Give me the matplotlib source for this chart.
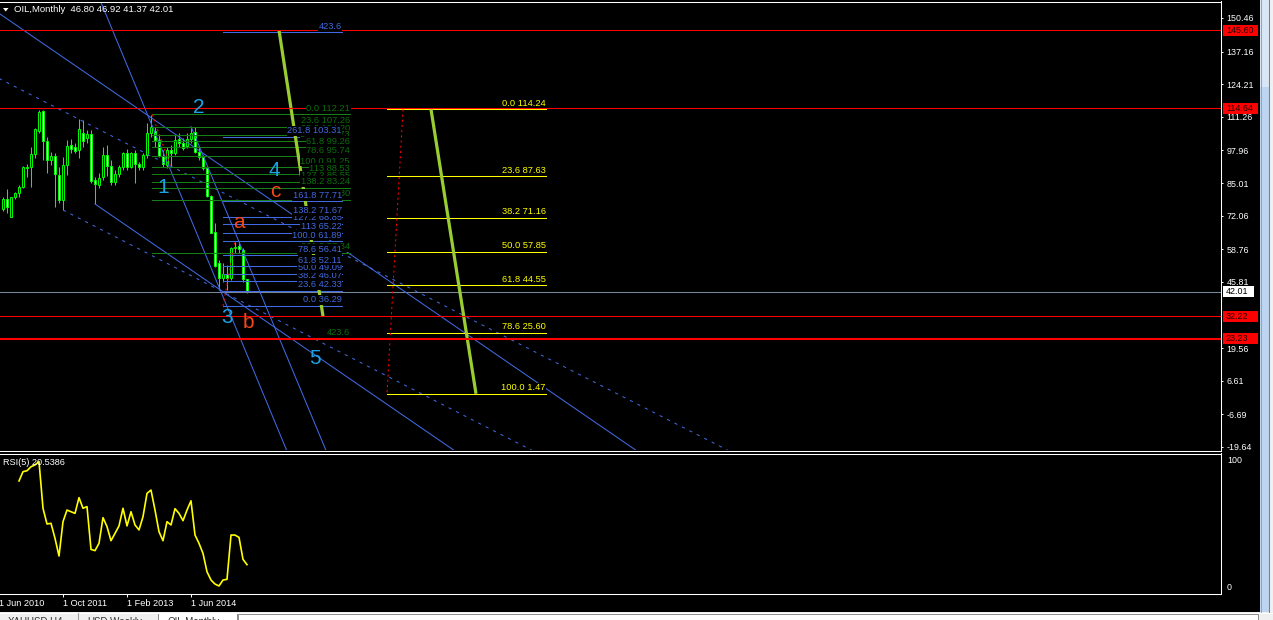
import numpy as np
import matplotlib
matplotlib.use('Agg')
import matplotlib.pyplot as plt
from matplotlib.patches import Rectangle, Polygon
from matplotlib.transforms import IdentityTransform

plt.rcParams['font.family'] = ['Liberation Sans', 'DejaVu Sans']

# ---------------- data (monthly bars, Jul 2010 .. Aug 2015) ----------------
opens = [74.6, 78.6, 71.4, 79.4, 80.9, 83.3, 91.0, 91.5, 96.4, 105.8,
         113.6, 101.8, 94.2, 95.8, 88.2, 78.3, 92.0, 100.0, 99.2, 98.1,
         104.7, 102.8, 104.3, 86.2, 84.1, 87.6, 96.1, 91.8, 85.6, 88.6,
         91.3, 97.1, 91.3, 96.8, 92.6, 91.3, 96.1, 104.7, 105.8, 102.1,
         95.8, 92.2, 98.1, 96.8, 102.4, 101.0, 99.7, 102.4, 105.4, 97.5,
         95.2, 90.9, 80.0, 65.5, 53.2, 47.2, 49.0, 47.2, 59.1, 60.1,
         58.5, 46.80]
highs = [79.6, 82.5, 79.6, 81.6, 84.3, 91.8, 92.6, 99.5, 106.7, 114.0,
         114.0, 103.4, 97.5, 96.8, 91.5, 95.5, 102.1, 102.4, 101.0, 110.3,
         110.0, 106.0, 106.0, 87.3, 88.9, 99.5, 100.1, 94.2, 90.2, 92.2,
         97.5, 98.4, 97.5, 98.1, 93.5, 96.8, 108.7, 112.0, 107.4, 104.1,
         98.1, 99.5, 100.1, 104.1, 104.7, 102.8, 104.7, 107.4, 107.4, 99.5,
         96.1, 91.5, 80.3, 69.0, 54.5, 53.2, 52.5, 59.8, 61.8, 61.8,
         59.1, 46.92]
lows = [74.1, 73.0, 71.4, 78.6, 79.6, 82.9, 87.6, 83.3, 95.0, 104.7,
        94.2, 88.9, 92.2, 75.4, 77.0, 74.3, 88.2, 96.8, 96.8, 94.8,
        99.5, 100.8, 84.9, 76.7, 82.9, 86.2, 87.8, 84.3, 84.3, 87.3,
        90.2, 90.2, 90.9, 85.2, 90.2, 90.2, 94.8, 103.4, 99.5, 95.5,
        91.5, 90.9, 91.5, 96.1, 99.5, 98.1, 98.8, 100.8, 97.1, 94.2,
        90.2, 79.6, 65.1, 51.9, 43.3, 45.9, 42.6, 46.6, 57.2, 57.2,
        45.9, 41.37]
closes = [78.6, 75.4, 79.4, 80.9, 83.3, 91.3, 91.5, 96.4, 106.3, 113.1,
          101.8, 94.2, 95.8, 88.6, 78.3, 92.0, 99.7, 98.4, 97.9, 106.3,
          101.8, 104.5, 86.0, 84.5, 86.9, 96.1, 91.8, 85.6, 88.6, 91.3,
          96.8, 91.3, 96.8, 92.6, 91.3, 96.1, 104.7, 107.1, 102.1, 95.8,
          92.6, 98.1, 96.8, 102.1, 101.0, 98.8, 102.4, 104.7, 97.5, 95.2,
          90.9, 80.0, 65.4, 52.3, 47.5, 49.0, 47.2, 59.1, 59.8, 58.7,
          46.8, 42.01]
nan = float('nan')
rsi5 = [nan, nan, nan, nan, 81.2, 87.9, 88.6, 91.5, 92.8, 95.2,
        61.4, 50.0, 50.5, 39.6, 26.8, 51.7, 60.1, 58.9, 57.7, 69.1,
        61.4, 62.6, 31.6, 30.7, 36.0, 54.6, 48.1, 37.9, 43.2, 48.6,
        61.4, 48.6, 58.9, 49.3, 45.7, 55.3, 72.2, 74.6, 60.1, 44.4,
        37.9, 51.7, 49.3, 61.1, 57.7, 52.4, 60.1, 66.8, 42.0, 36.0,
        28.7, 15.4, 9.4, 6.5, 5.1, 9.4, 9.9, 42.0, 42.0, 40.3,
        24.4, 20.54]

date_tick_idx = [15, 31, 47]
date_tick_labels = ['1 Oct 2011', '1 Feb 2013', '1 Jun 2014']
edge_date_idx = -1
edge_date_label = '1 Jun 2010'

price_ticks = [150.46, 137.16, 124.21, 111.26, 97.96, 85.01, 72.06, 58.76,
               45.81, 19.56, 6.61, -6.69, -19.64]
red_levels = [145.60, 114.64, 32.22, 23.23]
red_widths = [0.75, 0.75, 0.75, 1.5]
last_price = 42.01

# trend lines: (bar a, price a, bar b, price b, extend left)
solid_lines = [(37, 110.97, 100, 42.43, True),
               (37, 108.8, 60, 20.8, True),
               (47, 107.4, 80.8, -21.2, False),
               (23, 76.71, 100, -7.07, False)]
dashed_lines = [(0, 125.67, 100, 44.77, True),
                (15, 74.33, 100, 5.23, False)]
thick_lines = [(69, 145.60, 80, 32.22), (107, 114.24, 118.25, 1.47)]

fib_std_levels = [0, 23.6, 38.2, 50, 61.8, 78.6, 100, 113, 127.2, 138.2, 161.8, 261.8, 423.6]
fib_yel_levels = [0, 23.6, 38.2, 50, 61.8, 78.6, 100]
# (price 0, price 100, bar of 0, bar of 100, right end bar)
fib_green = (112.21, 91.25, 37.25, 42.0, 86.75)
fib_blue = (36.29, 61.89, 55.0, 58.0, 84.7)
fib_yellow = (114.24, 1.47, 100.0, 96.0, 135.7)

wave_labels = [('2', 49.0, 112.79, '#1CA3E6'), ('1', 40.0, 81.07, '#1CA3E6'),
               ('4', 67.75, 87.81, '#1CA3E6'), ('3', 56.0, 29.52, '#1CA3E6'),
               ('5', 78.0, 13.27, '#1CA3E6'), ('a', 59.0, 67.19, '#F5461A'),
               ('c', 68.0, 79.48, '#F5461A'), ('b', 61.25, 27.54, '#F5461A')]

# ---------------- figure ----------------
W, H = 1273, 620
fig = plt.figure(figsize=(W / 100, H / 100), dpi=100, facecolor='black')


def box(x0, y0, x1, y1):
    return [x0 / W, 1 - y1 / H, (x1 - x0) / W, (y1 - y0) / H]


ax = fig.add_axes(box(0, 2, 1221, 450))
ax2 = fig.add_axes(box(0, 454, 1221, 594))
for a in (ax, ax2):
    a.set_facecolor('black')
    for s in a.spines.values():
        s.set_visible(False)
    a.set_xlim(-0.75, 304.5)
ax.set_ylim(-20.83, 156.80)
ax2.set_ylim(-0.72, 100.72)

LIME = '#00FF00'
BLUE = '#4169E1'
idx = np.arange(len(closes))
o = np.array(opens); h = np.array(highs); l = np.array(lows); c = np.array(closes)
bull = c >= o
ax.vlines(idx, l, h, color=LIME, lw=0.75, zorder=2)
ax.bar(idx, np.maximum(np.abs(c - o), 0.05), bottom=np.minimum(o, c), width=0.55,
       color=['black' if b else 'white' for b in bull], edgecolor=LIME,
       linewidth=0.7, zorder=2.1)

# horizontal lines
ax.axhline(last_price, color='#778899', lw=0.75, zorder=3)
for p, w in zip(red_levels, red_widths):
    ax.axhline(p, color='#FF0000', lw=w, zorder=4.5)


def ray(ia, pa, ib, pb, ext):
    s = (pb - pa) / (ib - ia)
    x0 = -60 if ext else ia
    x1 = 420
    return [x0, x1], [pa + s * (x0 - ia), pa + s * (x1 - ia)]


for t in solid_lines:
    xs, ys = ray(*t)
    ax.plot(xs, ys, color=BLUE, lw=0.75, zorder=3)
for t in dashed_lines:
    xs, ys = ray(*t)
    ax.plot(xs, ys, color=BLUE, lw=0.75, ls=(0, (3, 5)), zorder=3)


def fib_text(lv, pr):
    if lv == 423.6:
        return '423.6'
    if lv == 113:
        return f'113 {pr:.2f}'
    return f'{lv:.1f} {pr:.2f}'


def draw_fib(fib, levels, lcol, tcol, z):
    p0, p100, i0, i1, xe = fib
    xs = min(i0, i1)
    for lv in levels:
        pr = p0 + (p100 - p0) * lv / 100.0
        ax.plot([xs, xe], [pr, pr], color=lcol, lw=0.75, zorder=3)
        ax.annotate(fib_text(lv, pr), xy=(xe, pr), xytext=(0, 1.5),
                    textcoords='offset pixels', ha='right', va='bottom',
                    color=tcol, fontsize=6.7, zorder=z,
                    bbox=dict(boxstyle='square,pad=0.06', fc='black', ec='none'))
    ax.plot([i0, i1], [p0, p100], color='#FF0000', lw=0.75, ls=(0, (2, 3)), zorder=3.2)


draw_fib(fib_green, fib_std_levels, '#157F15', '#0C6E0C', 5.0)
draw_fib(fib_blue, fib_std_levels, BLUE, BLUE, 5.1)
draw_fib(fib_yellow, fib_yel_levels, '#FFFF00', '#FFFF00', 5.2)

for (ia, pa, ib, pb) in thick_lines:
    ax.plot([ia, ib], [pa, pb], color='#9ACD32', lw=2.3, zorder=4, solid_capstyle='butt')

for t, i, p, col in wave_labels:
    ax.text(i, p, t, color=col, fontsize=15, ha='center', va='baseline', zorder=6)

# price axis
ax.yaxis.tick_right()
ax.set_yticks(price_ticks)
ax.set_yticklabels([f'{v:.2f}' for v in price_ticks])
ax.tick_params(axis='y', colors='white', labelsize=6.4, length=1.6, width=0.7, pad=2.4)
ax.tick_params(axis='x', bottom=False, labelbottom=False)

# RSI
ax2.plot(idx, rsi5, color='#FFFF00', lw=1.2, zorder=3)
ax2.tick_params(axis='y', left=False, labelleft=False)
ax2.set_xticks(date_tick_idx)
ax2.set_xticklabels(date_tick_labels)
ax2.tick_params(axis='x', colors='white', labelsize=6.6, length=2.4, width=0.7, pad=1.0)
for lab in ax2.get_xticklabels():
    lab.set_ha('left')
ax2.annotate(edge_date_label, xy=(edge_date_idx, 0), xycoords=('data', 'axes fraction'),
             xytext=(0, -3.4), textcoords='offset points', ha='left', va='top',
             color='white', fontsize=6.6, annotation_clip=False)
ax2.annotate('100', xy=(1, 100), xycoords=ax2.get_yaxis_transform(), xytext=(6, -1.5),
             textcoords='offset pixels', ha='left', va='top', color='white',
             fontsize=6.4, annotation_clip=False)
ax2.annotate('0', xy=(1, 0), xycoords=ax2.get_yaxis_transform(), xytext=(6, 1.5),
             textcoords='offset pixels', ha='left', va='bottom', color='white',
             fontsize=6.4, annotation_clip=False)

# price boxes on the axis
for p in red_levels:
    yd = ax.transData.transform((0, p))[1]
    fig.add_artist(Rectangle((1223, yd - 5.5), 35, 11, transform=IdentityTransform(),
                             facecolor='#FF0000', edgecolor='none', zorder=2))
    fig.text(1226 / W, yd / H, f'{p:.2f}', color='#200000', fontsize=6.4,
             ha='left', va='center', zorder=3)
yd = ax.transData.transform((0, last_price))[1]
fig.add_artist(Rectangle((1223, yd - 5.5), 31, 11, transform=IdentityTransform(),
                         facecolor='white', edgecolor='none', zorder=2))
fig.text(1226 / W, yd / H, f'{last_price:.2f}', color='black', fontsize=6.4,
         ha='left', va='center', zorder=3)

# ---------------- overlay (frames, window chrome, captions) ----------------
ov = fig.add_axes([0, 0, 1, 1])
ov.set_xlim(0, W)
ov.set_ylim(H, 0)
ov.axis('off')
ov.patch.set_alpha(0)
ov.set_zorder(5)
wl = dict(color='white', lw=0.75)
ov.plot([0, 1221], [1.5, 1.5], **wl)
ov.plot([1220.5, 1220.5], [1, 451], **wl)
ov.plot([0, 1221], [450.5, 450.5], **wl)
ov.plot([0, 1221], [453.5, 453.5], **wl)
ov.plot([1220.5, 1220.5], [453, 594], **wl)
ov.plot([0, 1221], [593.5, 593.5], **wl)

# scrollbar
ov.add_patch(Rectangle((1260, 0), 9, 612, facecolor='#BDD5EE', edgecolor='none'))
ov.add_patch(Rectangle((1260, 0), 9, 87, facecolor='#D8E6F5', edgecolor='none'))
ov.plot([1260.5, 1260.5], [0, 612], color='#8AA6C8', lw=0.75)
ov.plot([1269, 1269], [0, 612], color='#3A8EE6', lw=0.75)
ov.add_patch(Rectangle((1269.5, 0), 4, 620, facecolor='#F0F0F0', edgecolor='none'))

# tab strip
ov.add_patch(Rectangle((0, 612), W, 8, facecolor='#F0F0F0', edgecolor='none'))
ov.plot([0, W], [612.5, 612.5], color='white', lw=0.75)
ov.add_patch(Rectangle((238, 613.5), 1020, 7, facecolor='white', edgecolor='#7A7A7A', lw=0.6))
ov.add_patch(Rectangle((158, 613), 79, 8, facecolor='white', edgecolor='#7A7A7A', lw=0.6))
ov.plot([78, 78], [613, 620], color='#A0A0A0', lw=0.75)
for x, t in [(8, 'XAUUSD,H4'), (87, 'USD,Weekly'), (168, 'OIL,Monthly')]:
    ov.text(x, 617.0, t, color='#303030', fontsize=7, ha='left', va='top')

# captions
ov.add_patch(Polygon([(3, 8), (8.5, 8), (5.75, 11.5)], closed=True, facecolor='white',
                     edgecolor='none'))
ov.text(14, 9.5, 'OIL,Monthly  46.80 46.92 41.37 42.01', color='white', fontsize=6.8,
        ha='left', va='center')
ov.text(3, 462.5, 'RSI(5) 20.5386', color='white', fontsize=6.6, ha='left', va='center')

fig.savefig('out.png', dpi=100, facecolor='black')
